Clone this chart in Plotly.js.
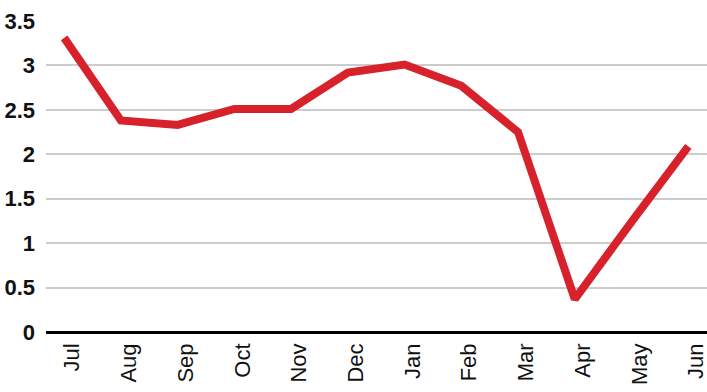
<!DOCTYPE html>
<html>
<head>
<meta charset="utf-8">
<script src="https://cdn.plot.ly/plotly-3.0.1.min.js"></script>
<style>html,body{margin:0;padding:0;background:#fff;}#chart{width:707px;height:392px;}</style>
</head>
<body>
<div id="chart"></div>
<script>
const months = ["Jul","Aug","Sep","Oct","Nov","Dec","Jan","Feb","Mar","Apr","May","Jun"];
const values = [3.31, 2.38, 2.33, 2.51, 2.51, 2.92, 3.01, 2.77, 2.25, 0.37, 1.24, 2.09];
const yTicks = [0, 0.5, 1, 1.5, 2, 2.5, 3, 3.5];
const yTickLabels = ["0", "0.5", "1", "1.5", "2", "2.5", "3", "3.5"];

const trace = {
  x: months.map((m, i) => i),
  y: values,
  type: "scatter",
  mode: "lines",
  line: {color: "#d7222c", width: 8},
  hoverinfo: "skip"
};

const layout = {
  width: 707, height: 392,
  margin: {l: 46, r: 0, t: 21, b: 60},
  paper_bgcolor: "#fff", plot_bgcolor: "#fff",
  showlegend: false,
  xaxis: {
    range: [-0.32, 11.33],
    tickmode: "array",
    tickvals: months.map((m, i) => i),
    ticktext: months,
    tickangle: -90,
    showgrid: false,
    zeroline: false,
    showline: false,
    ticks: "",
    ticklabelstandoff: 6,
    ticklabelshift: 8,
    ticklabeloverflow: "allow",
    tickfont: {family: "'Liberation Sans Narrow', 'Arial Narrow', sans-serif", size: 22, color: "#111"}
  },
  yaxis: {
    range: [0, 3.5],
    tickmode: "array",
    tickvals: yTicks,
    ticktext: yTickLabels,
    showgrid: true,
    gridcolor: "#cccccc",
    gridwidth: 2,
    zeroline: true,
    zerolinecolor: "#000",
    zerolinewidth: 3,
    ticks: "",
    ticklabelstandoff: 10,
    tickfont: {family: "'Liberation Sans Narrow', 'Arial Narrow', sans-serif", size: 22, color: "#111", weight: "bold"}
  }
};

Plotly.newPlot("chart", [trace], layout, {displayModeBar: false, staticPlot: true});
</script>
</body>
</html>
